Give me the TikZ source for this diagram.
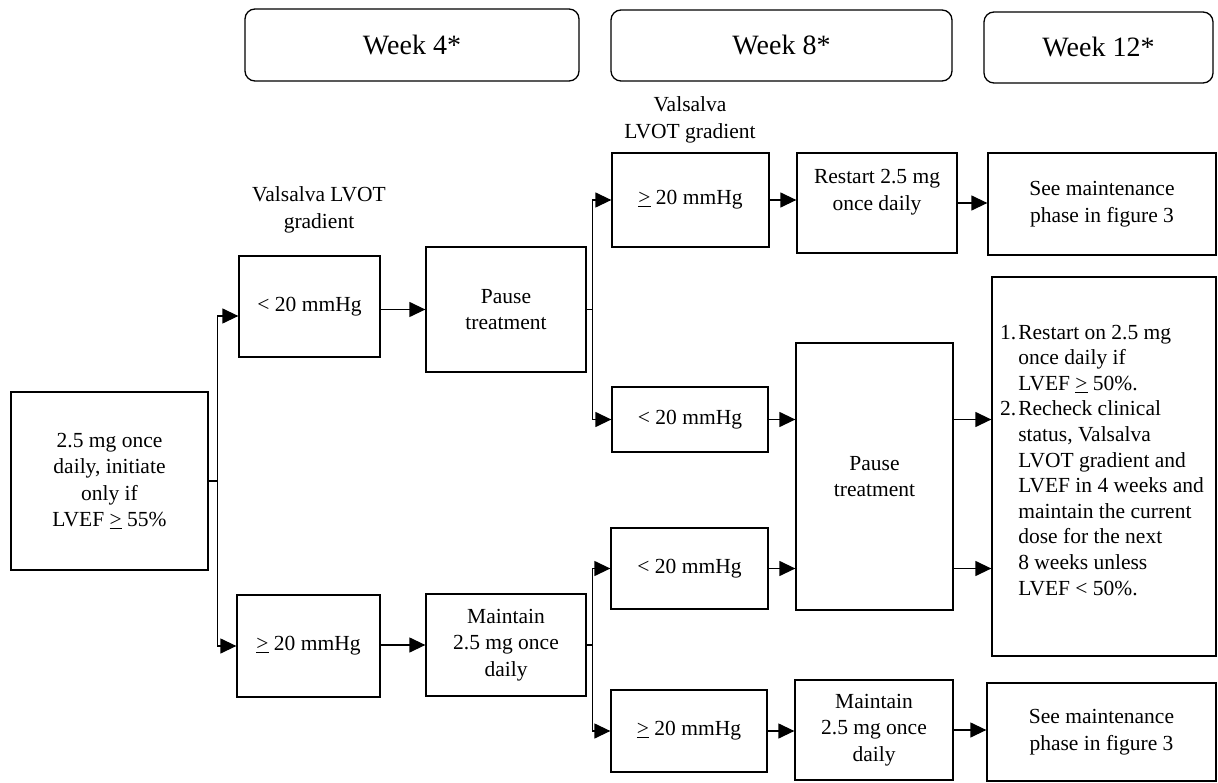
\documentclass[tikz,border=0pt]{standalone}
\usepackage{fontspec}
\setmainfont{Liberation Serif}
\usetikzlibrary{arrows.meta}
\newcommand{\geu}{\underline{>}}
\begin{document}
\begin{tikzpicture}[x=1pt,y=-1pt,
  box/.style={draw, line width=1.3pt, inner sep=0pt, align=center, font=\fontsize{21.5}{26.5}\selectfont},
  wk/.style={draw, line width=1.3pt, rounded corners=10pt, inner sep=0pt, font=\fontsize{28}{32}\selectfont},
  lbl/.style={inner sep=0pt, align=center, font=\fontsize{21.5}{27.5}\selectfont},
  listtxt/.style={inner sep=0pt, font=\fontsize{21.5}{25.6}\selectfont},
  ln/.style={line width=1.3pt},
  arr/.style={line width=1.3pt, -{Triangle[length=16pt,width=15pt]}}]
\useasboundingbox (0,0) rectangle (1218,783);

% week headers
\node[wk, minimum width=334, minimum height=72] (w4) at (412,45) {Week 4*};
\node[wk, minimum width=341, minimum height=71] (w8) at (781.5,45.5) {Week 8*};
\node[wk, minimum width=229, minimum height=71] (w12) at (1098.5,47.5) {Week 12*};

% labels
\node[lbl] (lab1) at (319,210) {Valsalva LVOT\\gradient};
\node[lbl] (lab2) at (690,120) {Valsalva\\LVOT gradient};

% boxes
\node[box, minimum width=197, minimum height=178] (start) at (109.5,481) {2.5 mg once\\daily, initiate\\only if\\LVEF \geu{} 55\%};
\node[box, minimum width=141, minimum height=101] (lt) at (309.5,306.5) {< 20 mmHg};
\node[box, minimum width=143, minimum height=102] (ge) at (308.5,646) {\geu{} 20 mmHg};
\node[box, minimum width=160, minimum height=125] (pause1) at (506,309.5) {Pause\\treatment};
\node[box, minimum width=160, minimum height=102] (maint1) at (506,645) {Maintain\\2.5 mg once\\daily};
\node[box, minimum width=157, minimum height=94] (g8a) at (690.5,200) {\geu{} 20 mmHg};
\node[box, minimum width=156, minimum height=65] (l8a) at (690,419.5) {< 20 mmHg};
\node[box, minimum width=157, minimum height=81] (l8b) at (689.5,568.5) {< 20 mmHg};
\node[box, minimum width=156, minimum height=82] (g8b) at (689,731) {\geu{} 20 mmHg};
\node[box, minimum width=160, minimum height=100] (restart) at (877,203) {Restart 2.5 mg\\once daily\\\mbox{}};
\node[box, minimum width=157, minimum height=267] (pause2) at (874.5,476.5) {Pause\\treatment};
\node[box, minimum width=158, minimum height=100] (maint2) at (874,730) {Maintain\\2.5 mg once\\daily};
\node[box, minimum width=228, minimum height=102] (see1) at (1102,204) {See maintenance\\phase in figure 3};
\node[box, minimum width=224, minimum height=379] (list) at (1104,466.5) {};
\node[box, minimum width=229, minimum height=98] (see2) at (1101.5,732) {See maintenance\\phase in figure 3};

\node[listtxt, anchor=north west] (listtext) at (1000,321) {%
\begin{tabular}{@{}l@{\hspace{2pt}}l@{}}
1. & Restart on 2.5 mg\\
   & once daily if\\
   & LVEF \geu{} 50\%.\\
2. & Recheck clinical\\
   & status, Valsalva\\
   & LVOT gradient and\\
   & LVEF in 4 weeks and\\
   & maintain the current\\
   & dose for the next\\
   & 8 weeks unless\\
   & LVEF < 50\%.
\end{tabular}};

% connectors
\draw[ln] (start.east) -- ++(9,0) coordinate (sb);
\draw[arr] (sb) |- ([yshift=-9.5pt]lt.west);
\draw[arr] (sb) |- (ge.west);
\draw[arr] (lt.east |- pause1.west) -- (pause1.west);
\draw[arr] (ge.east |- maint1.west) -- (maint1.west);
\draw[ln] (pause1.east) -- ++(6,0) coordinate (pb);
\draw[arr] (pb) |- (g8a.west);
\draw[arr] (pb) |- (l8a.west);
\draw[ln] (maint1.east) -- ++(6,0) coordinate (mb);
\draw[arr] (mb) |- (l8b.west);
\draw[arr] (mb) |- (g8b.west);
\draw[arr] (g8a.east) -- (restart.west |- g8a.east);
\draw[arr] (restart.east) -- (see1.west |- restart.east);
\draw[arr] (l8a.east) -- (pause2.west |- l8a.east);
\draw[arr] (l8b.east) -- (pause2.west |- l8b.east);
\draw[arr] (pause2.east |- l8a.east) -- (list.west |- l8a.east);
\draw[arr] (pause2.east |- l8b.east) -- (list.west |- l8b.east);
\draw[arr] (g8b.east) -- (maint2.west |- g8b.east);
\draw[arr] (maint2.east) -- (see2.west |- maint2.east);
\end{tikzpicture}
\end{document}
